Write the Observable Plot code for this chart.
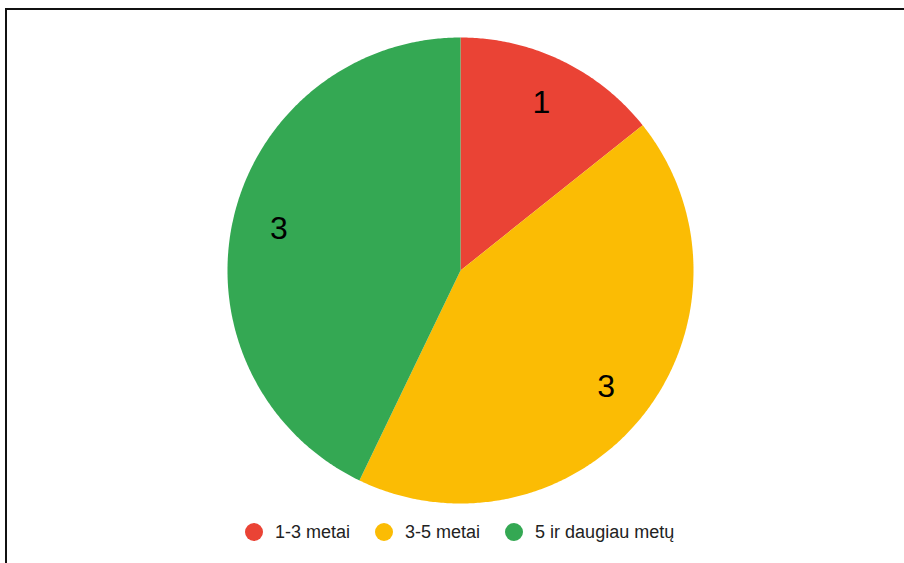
<!DOCTYPE html>
<html>
<head>
<meta charset="utf-8">
<script src="https://cdn.jsdelivr.net/npm/d3@7"></script>
<script src="https://cdn.jsdelivr.net/npm/@observablehq/plot@0.6"></script>
<style>
  html, body { margin: 0; padding: 0; background: #fff; }
  body { width: 904px; height: 563px; position: relative; overflow: hidden; font-family: Arial, "Liberation Sans", sans-serif; }
  #frame { position: absolute; left: 5px; top: 8px; right: 0; bottom: -10px; border-top: 2px solid #111; border-left: 2px solid #111; pointer-events: none; }
  #chart { position: absolute; left: 0; top: 0; }
  #legend { position: absolute; left: 245px; top: 520px; height: 24px; display: flex; align-items: center; font-size: 18px; color: #222; }
  .item { display: flex; align-items: center; margin-right: 25px; }
  .dot { width: 18px; height: 18px; border-radius: 50%; margin-right: 12px; }
</style>
</head>
<body>
<div id="chart"></div>
<div id="legend"></div>
<div id="frame"></div>
<script>
const categories = ["1-3 metai", "3-5 metai", "5 ir daugiau metų"];
const values = [1, 3, 3];
const colors = ["#EA4335", "#FBBC04", "#34A853"];

const arcs = d3.pie().sort(null).startAngle(0).endAngle(2 * Math.PI)(values);

// slice outlines (center -> arc -> center)
const pts = [];
arcs.forEach((a, i) => {
  const cat = categories[i];
  pts.push({cat, x: 0, y: 0});
  const n = Math.max(2, Math.ceil((a.endAngle - a.startAngle) / (Math.PI / 360)));
  for (let k = 0; k <= n; k++) {
    const t = a.startAngle + (a.endAngle - a.startAngle) * k / n;
    pts.push({cat, x: Math.sin(t), y: Math.cos(t)});
  }
  pts.push({cat, x: 0, y: 0});
});

const labels = arcs.map((a, i) => {
  const m = (a.startAngle + a.endAngle) / 2;
  return {x: 0.8 * Math.sin(m), y: 0.8 * Math.cos(m), text: String(values[i])};
});

const plot = Plot.plot({
  width: 904,
  height: 520,
  marginLeft: 227,
  marginRight: 211,
  marginTop: 37,
  marginBottom: 17,
  x: {domain: [-1, 1], axis: null},
  y: {domain: [-1, 1], axis: null},
  color: {domain: categories, range: colors},
  style: {background: "transparent", fontFamily: "Arial, 'Liberation Sans', sans-serif"},
  marks: [
    Plot.line(pts, {x: "x", y: "y", z: "cat", fill: "cat", stroke: "none", curve: "linear"}),
    Plot.text(labels, {x: "x", y: "y", text: "text", fill: "#000", fontSize: 32, fontFamily: "Arial, 'Liberation Sans', sans-serif"})
  ]
});
document.getElementById("chart").append(plot);

const lg = document.getElementById("legend");
categories.forEach((c, i) => {
  const it = document.createElement("div");
  it.className = "item";
  const d = document.createElement("span");
  d.className = "dot";
  d.style.background = colors[i];
  const t = document.createElement("span");
  t.textContent = c;
  it.append(d, t);
  lg.append(it);
});
</script>
</body>
</html>
